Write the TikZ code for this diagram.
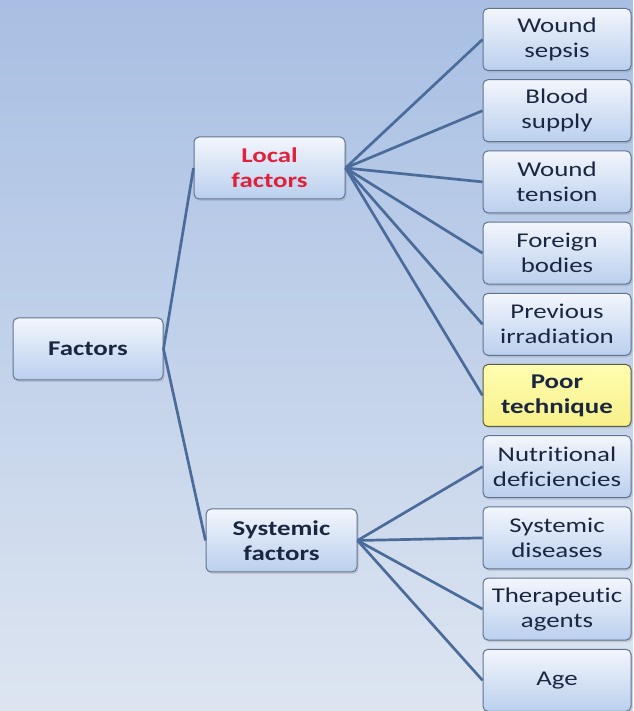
\documentclass[tikz,border=0pt]{standalone}
\usepackage{fontspec}
\setmainfont{Carlito}[FakeStretch=1.28, Ligatures={NoCommon}]
\usetikzlibrary{shadows}
\definecolor{bgtop}{HTML}{A8BFE3}
\definecolor{bgbot}{HTML}{DDE5F1}
\definecolor{boxtop}{HTML}{F3F6FC}
\definecolor{boxbot}{HTML}{BACFEE}
\definecolor{boxline}{HTML}{5F7393}
\definecolor{txt}{HTML}{1B2741}
\definecolor{redtxt}{HTML}{E0213C}
\definecolor{conn}{HTML}{4B6C9B}
\definecolor{yeltop}{HTML}{FFFDB0}
\definecolor{yelbot}{HTML}{F7F08A}
\begin{document}
\begin{tikzpicture}[x=1pt,y=1pt,
  card/.style={draw=boxline, line width=1pt, rounded corners=5pt,
    top color=boxtop, bottom color=boxbot, text=txt,
    align=center, font=\fontsize{21}{25}\selectfont,
    minimum height=62pt, inner sep=0pt,
    drop shadow={opacity=0.25, shadow xshift=1.5pt, shadow yshift=-2pt}},
  leaf/.style={card, minimum width=148pt, text width=146pt},
  mid/.style={card, minimum width=151pt, text width=149pt, font=\fontsize{21}{25}\selectfont\bfseries},
  yel/.style={top color=yeltop, bottom color=yelbot, draw=boxline!70!yellow!60!black},
  link/.style={draw=conn, line width=2.7pt}]
\useasboundingbox (0,0) rectangle (633,711);
\shade[top color=bgtop, bottom color=bgbot] (0,0) rectangle (633,711);

\node[mid, minimum width=150pt, text width=148pt] (fac) at (88,362) {Factors};
\node[mid, text=redtxt] (loc) at (269.5,543) {Local\\factors};
\node[mid, minimum height=63pt] (sys) at (281.5,170.5) {Systemic\\factors};

\node[leaf] (r1) at (557,671.5) {Wound\\sepsis};
\node[leaf] (r2) at (557,600.3) {Blood\\supply};
\node[leaf] (r3) at (557,529.1) {Wound\\tension};
\node[leaf] (r4) at (557,457.9) {Foreign\\bodies};
\node[leaf] (r5) at (557,386.7) {Previous\\irradiation};
\node[leaf, yel, font=\fontsize{21}{25}\selectfont\bfseries] (r6) at (557,315.5) {Poor\\technique};
\node[leaf] (r7) at (557,244.3) {Nutritional\\deficiencies};
\node[leaf] (r8) at (557,173.1) {Systemic\\diseases};
\node[leaf] (r9) at (557,101.9) {Therapeutic\\agents};
\node[leaf] (r10) at (557,30.7) {Age};

\draw[link] (fac.east) -- (loc.west);
\draw[link] (fac.east) -- (sys.west);
\foreach \i in {1,...,6} \draw[link] (loc.east) -- (r\i.west);
\foreach \i in {7,...,10} \draw[link] (sys.east) -- (r\i.west);
\end{tikzpicture}
\end{document}
